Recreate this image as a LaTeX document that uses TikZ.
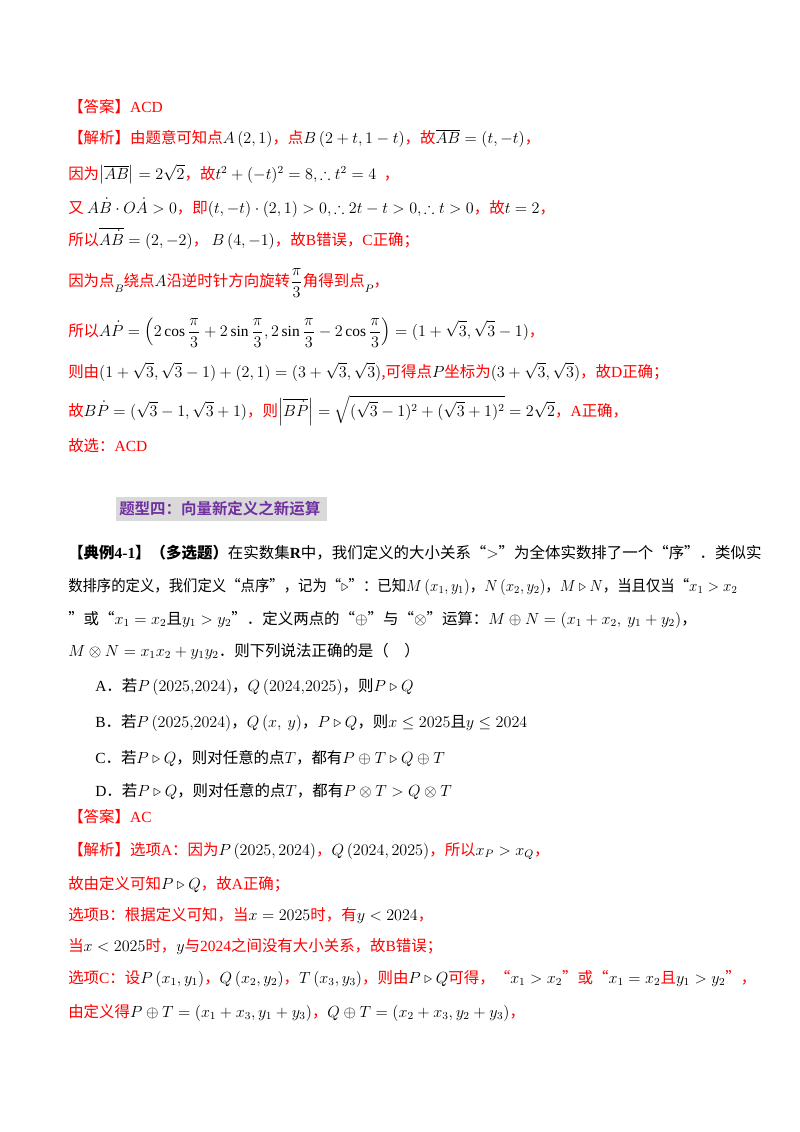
\documentclass[tikz,border=0pt]{standalone}
\usepackage{amsmath,amssymb}
\usepackage{fontspec}
\setmainfont{Liberation Serif}
\newfontfamily\cjk{Noto Sans CJK SC}
\newfontfamily\cjkb{Noto Sans CJK SC Bold}
\newcommand\mm[1]{{\color{black}$#1$}}
\newcommand\lt[1]{{\rmfamily #1}}
\definecolor{ansred}{RGB}{255,0,0}
\definecolor{headpurple}{RGB}{112,48,160}
\begin{document}
\begin{tikzpicture}[x=0.744pt,y=-0.744pt,
  ln/.style={anchor=base west,inner sep=0pt,font=\cjk\fontsize{11.5}{14}\selectfont},
  rd/.style={ln,text=ansred},
  bk/.style={ln,text=black}]
\useasboundingbox (0,0) rectangle (800,1132);
\fill[white] (0,0) rectangle (800,1132);
\node[rd] (l1) at (68,112) {【答案】\lt{ACD}};
\node[rd] (l2) at (68,143) {【解析】由题意可知点\mm{A\left(2,1\right)}，点\mm{B\left(2+t,1-t\right)}，故\mm{\overline{AB}=(t,-t)}，};
\node[rd] (l3) at (68,179) {因为\mm{\left|\overline{AB}\right|=2\sqrt{2}}，故\mm{t^2+(-t)^2=8,\therefore t^2=4}\enspace，};
\node[rd] (l4) at (68,213) {又 \mm{A\dot{B}\cdot O\dot{A}>0}，即\mm{(t,-t)\cdot(2,1)>0,\therefore 2t-t>0,\therefore t>0}，故\mm{t=2}，};
\node[rd] (l5) at (68,245) {所以\mm{\overline{A\dot B}=\left(2,-2\right)}，\ \mm{B\left(4,-1\right)}，故\lt{B}错误，\lt{C}正确；};
\node[rd] (l6) at (68,286) {因为点\raisebox{-5pt}{\mm{\scriptstyle B}}绕点\mm{A}沿逆时针方向旋转\mm{\dfrac{\pi}{3}}角得到点\raisebox{-5pt}{\mm{\scriptstyle P}}，};
\node[rd] (l7) at (68,336) {所以\mm{\displaystyle A\dot{P}=\left(2\cos\frac{\pi}{3}+2\sin\frac{\pi}{3},2\sin\frac{\pi}{3}-2\cos\frac{\pi}{3}\right)=(1+\sqrt{3},\sqrt{3}-1)}，};
\node[rd] (l8) at (68,377) {则由\mm{(1+\sqrt3,\sqrt3-1)+(2,1)=(3+\sqrt3,\sqrt3)},可得点\mm{P}坐标为\mm{(3+\sqrt3,\sqrt3)}，故\lt{D}正确；};
\node[rd] (l9) at (68,416) {故\mm{B\dot{P}=(\sqrt3-1,\sqrt3+1)}，则\mm{\left|\overline{B\dot P}\right|=\sqrt{(\sqrt3-1)^2+(\sqrt3+1)^2}=2\sqrt2}，\lt{A}正确，};
\node[rd] (l10) at (68,451) {故选：\lt{ACD}};
\fill[gray!30] (116,497) rectangle (327,521);
\node[ln,text=headpurple,font=\cjkb\fontsize{11.5}{14}\selectfont] (h) at (119,514) {题型四：向量新定义之新运算};
\node[bk] (q1) at (68,558) {\textbf{【典例\lt{\textbf{4-1}}】（多选题）}在实数集\mm{\mathbf{R}}中，我们定义的大小关系“\mm{>}”为全体实数排了一个“序”．类似实};
\node[bk,xscale=0.93] (q2) at (68,591) {数排序的定义，我们定义“点序”，记为“\mm{\triangleright}”：已知\mm{M\left(x_1,y_1\right)}，\mm{N\left(x_2,y_2\right)}，\mm{M\triangleright N}，当且仅当“\mm{x_1>x_2}};
\node[bk] (q3) at (68,624) {”或“\mm{x_1=x_2}且\mm{y_1>y_2}”．定义两点的“\mm{\oplus}”与“\mm{\otimes}”运算：\mm{M\oplus N=\left(x_1+x_2,\ y_1+y_2\right)}，};
\node[bk] (q4) at (68,656) {\mm{M\otimes N=x_1x_2+y_1y_2}．则下列说法正确的是（\quad ）};
\node[bk] (oa) at (95,691) {\lt{A}．若\mm{P\left(2025{,}2024\right)}，\mm{Q\left(2024{,}2025\right)}，则\mm{P\triangleright Q}};
\node[bk] (ob) at (95,727) {\lt{B}．若\mm{P\left(2025{,}2024\right)}，\mm{Q\left(x,\ y\right)}，\mm{P\triangleright Q}，则\mm{x\le 2025}且\mm{y\le 2024}};
\node[bk] (oc) at (95,763) {\lt{C}．若\mm{P\triangleright Q}，则对任意的点\mm{T}，都有\mm{P\oplus T\triangleright Q\oplus T}};
\node[bk] (od) at (95,796) {\lt{D}．若\mm{P\triangleright Q}，则对任意的点\mm{T}，都有\mm{P\otimes T>Q\otimes T}};
\node[rd] (a1) at (68,822) {【答案】\lt{AC}};
\node[rd] (a2) at (68,855) {【解析】选项\lt{A}：因为\mm{P\left(2025,2024\right)}，\mm{Q\left(2024,2025\right)}，所以\mm{x_P>x_Q}，};
\node[rd] (a3) at (68,889) {故由定义可知\mm{P\triangleright Q}，故\lt{A}正确；};
\node[rd] (a4) at (68,920) {选项\lt{B}：根据定义可知，当\mm{x=2025}时，有\mm{y<2024}，};
\node[rd] (a5) at (68,951) {当\mm{x<2025}时，\mm{y}与\lt{2024}之间没有大小关系，故\lt{B}错误；};
\node[rd] (a6) at (68,983) {选项\lt{C}：设\mm{P\left(x_1,y_1\right)}，\mm{Q\left(x_2,y_2\right)}，\mm{T\left(x_3,y_3\right)}，则由\mm{P\triangleright Q}可得，“\mm{x_1>x_2}”或“\mm{x_1=x_2}且\mm{y_1>y_2}”，};
\node[rd] (a7) at (68,1017) {由定义得\mm{P\oplus T=\left(x_1+x_3,y_1+y_3\right)}，\mm{Q\oplus T=\left(x_2+x_3,y_2+y_3\right)}，};
\end{tikzpicture}
\end{document}
